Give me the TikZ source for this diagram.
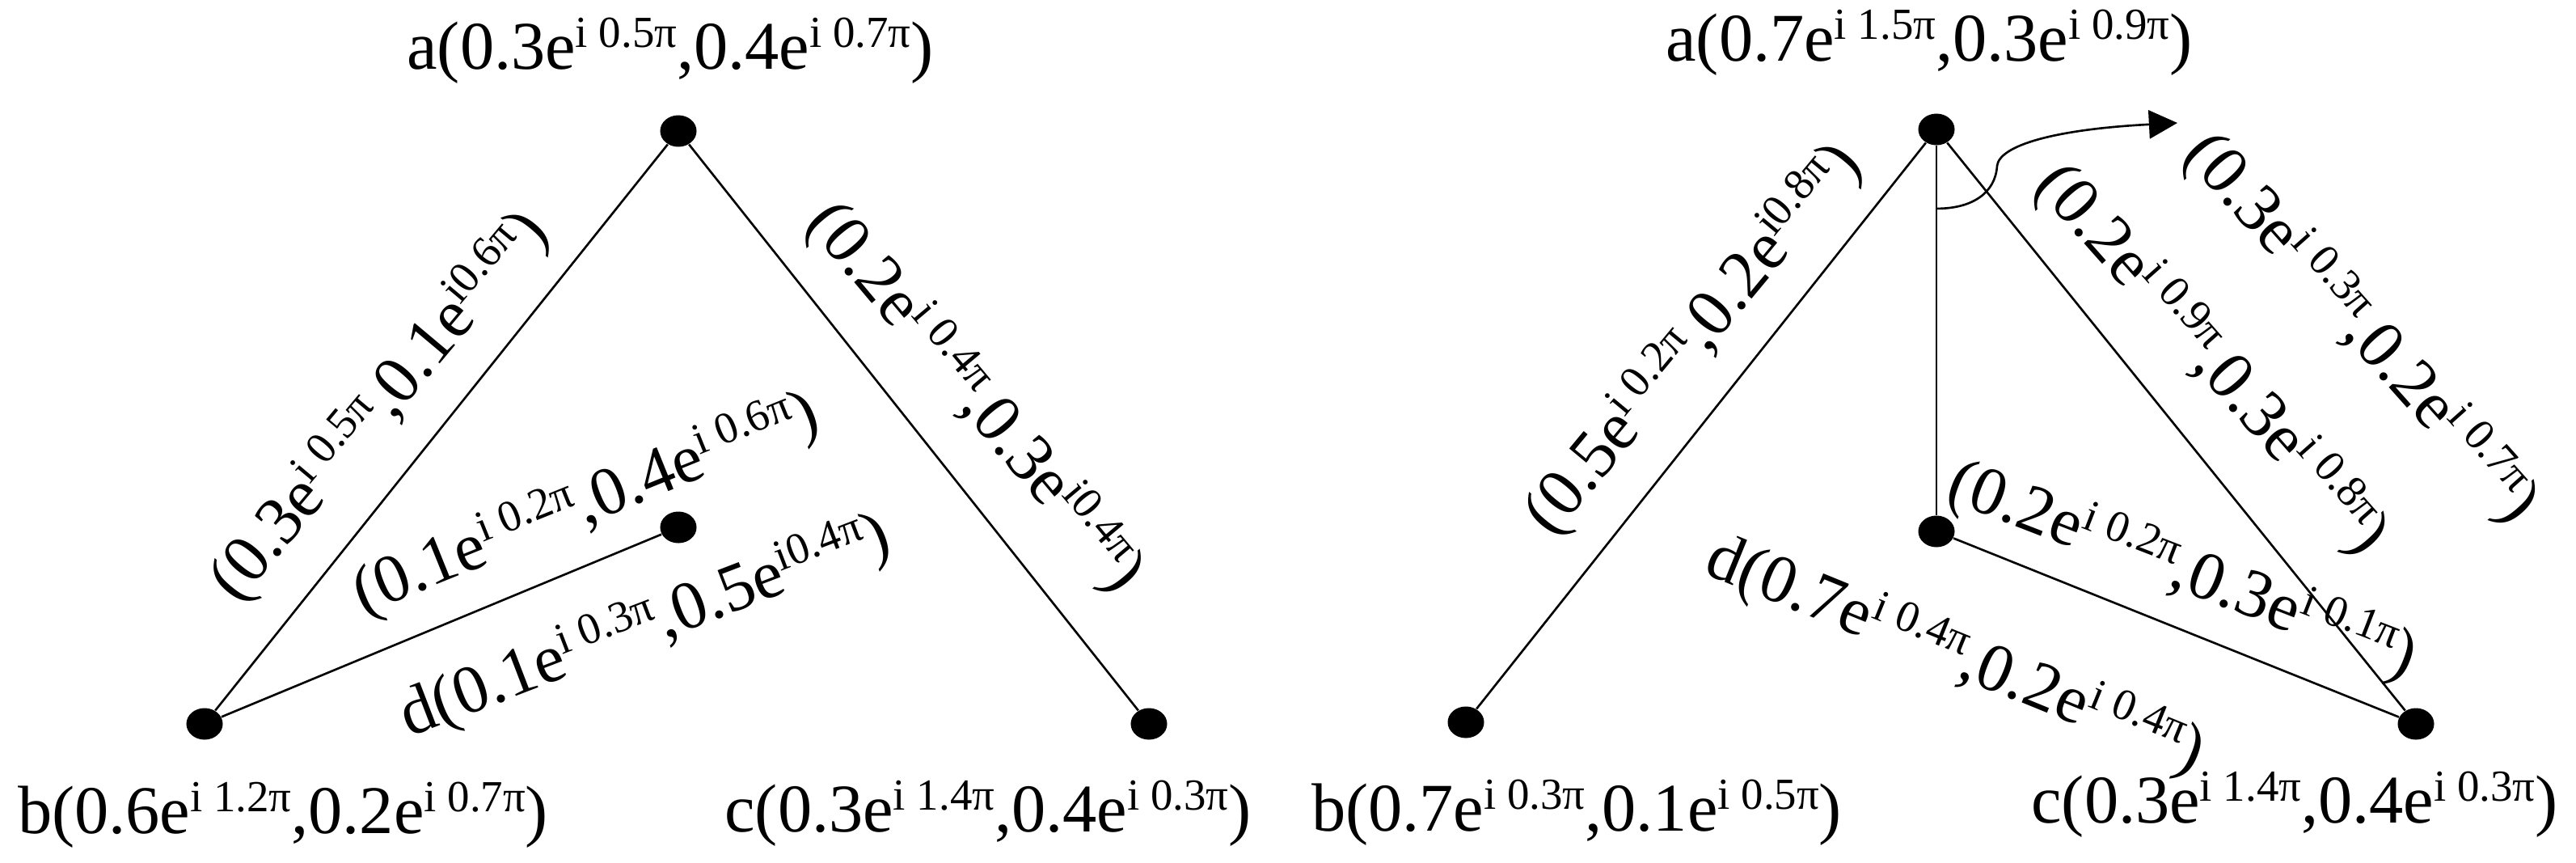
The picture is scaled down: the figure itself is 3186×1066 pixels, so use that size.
\documentclass[tikz,border=0pt]{standalone}
\usepackage{fontspec}
\setmainfont{Liberation Serif}
\usetikzlibrary{shapes.geometric,arrows.meta,calc}
\newcommand\supr[1]{\raisebox{0.32em}{\fontsize{15.6pt}{16pt}\selectfont #1}}
\newcommand\ee[1]{e\supr{#1}}
\begin{document}
\begin{tikzpicture}[x=0.01cm,y=-0.01cm,
  dot/.style={ellipse,fill=black,inner sep=0pt,minimum width=0.45cm,minimum height=0.39cm},
  lab/.style={font=\fontsize{24pt}{28pt}\selectfont,inner sep=0pt},
  edge/.style={line width=0.75pt}]
\path[use as bounding box] (0,0) rectangle (3186,1066);

% ---------- left graph ----------
\node[dot] (a1) at (839,162) {};
\node[dot] (b1) at (253,895) {};
\node[dot] (c1) at (1421,895) {};
\node[dot] (d1) at (839,652) {};
\draw[edge] (a1) -- (b1);
\draw[edge] (a1) -- (c1);
\draw[edge] (b1) -- (d1);

\node[lab,anchor=base] (la1) at (829,85) {a(0.3\ee{i 0.5π},0.4\ee{i 0.7π})};
\node[lab,anchor=base] (lb1) at (350,1030) {b(0.6\ee{i 1.2π},0.2\ee{i 0.7π})};
\node[lab,anchor=base] (lc1) at (1222,1028) {c(0.3\ee{i 1.4π},0.4\ee{i 0.3π})};
\node[lab,rotate=21] (ld1) at (798,775) {d(0.1\ee{i 0.3π},0.5\ee{i0.4π})};
\node[lab,rotate=50] (lab1) at (470,503) {(0.3\ee{i 0.5π},0.1\ee{i0.6π})};
\node[lab,rotate=-50] (lac1) at (1206,492) {(0.2\ee{i 0.4π},0.3\ee{i0.4π})};
\node[lab,rotate=22] (lbd1) at (725,624) {(0.1\ee{i 0.2π},0.4\ee{i 0.6π})};

% ---------- right graph ----------
\node[dot] (a2) at (2395,160) {};
\node[dot] (b2) at (1813,893) {};
\node[dot] (c2) at (2988,895) {};
\node[dot] (d2) at (2395,657) {};
\draw[edge] (a2) -- (b2);
\draw[edge] (a2) -- (c2);
\draw[edge] (a2) -- (d2);
\draw[edge] (d2) -- (c2);

\coordinate (arcS) at ($(a2)!0.197!(d2)$);
\coordinate (tip) at (2693,152);
\draw[edge,-{Triangle[length=10pt,width=10pt]}] (arcS)
  .. controls (2440,258) and (2468,238) .. (2470,205)
  .. controls (2473,180) and (2540,160) .. (tip);

\node[lab,anchor=base] (la2) at (2386,75) {a(0.7\ee{i 1.5π},0.3\ee{i 0.9π})};
\node[lab,anchor=base] (lb2) at (1950,1027) {b(0.7\ee{i 0.3π},0.1\ee{i 0.5π})};
\node[lab,anchor=base] (lc2) at (2838,1017) {c(0.3\ee{i 1.4π},0.4\ee{i 0.3π})};
\node[lab,rotate=-22.2] (ld2) at (2418,811) {d(0.7\ee{i 0.4π},0.2\ee{i 0.4π})};
\node[lab,rotate=50.3] (lab2) at (2095,420) {(0.5\ee{i 0.2π},0.2\ee{i0.8π})};
\node[lab,rotate=-48.5] (lac2) at (2735,445) {(0.2\ee{i 0.9π},0.3\ee{i 0.8π})};
\node[lab,rotate=-48.3] (lad2) at (2920,406) {(0.3\ee{i 0.3π},0.2\ee{i 0.7π})};
\node[lab,rotate=-21.2] (ldc2) at (2699,706) {(0.2\ee{i 0.2π},0.3\ee{i 0.1π})};
\end{tikzpicture}
\end{document}
